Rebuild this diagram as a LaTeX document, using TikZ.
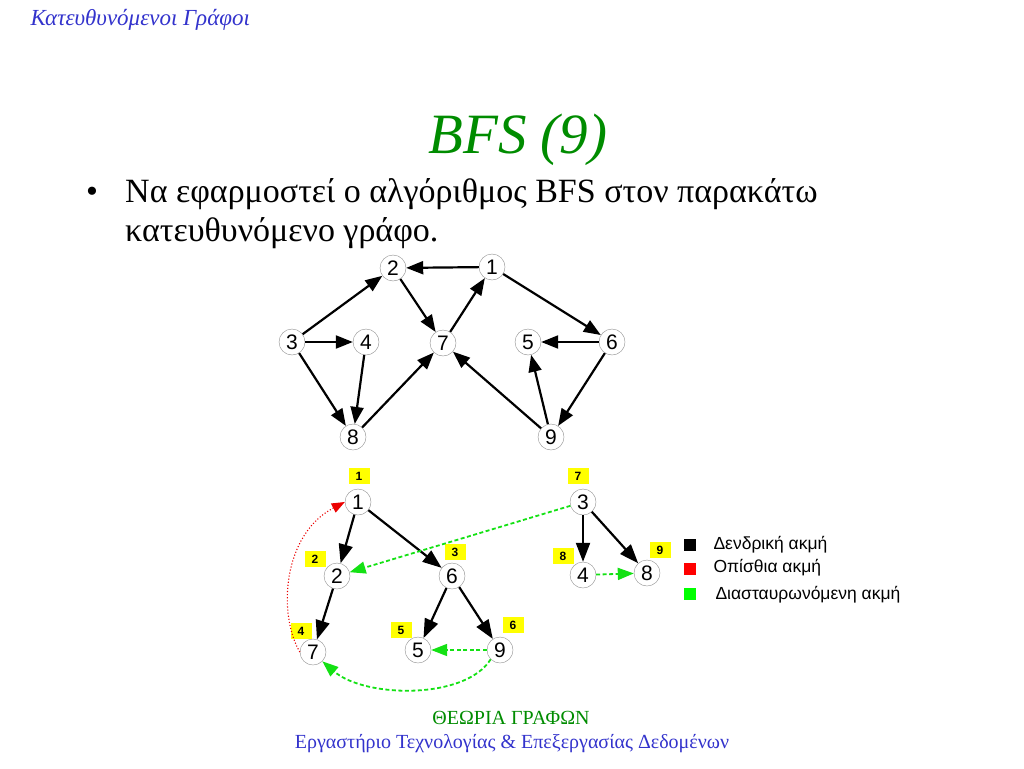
\documentclass[tikz,border=0pt]{standalone}
\usepackage{fontspec}
\setmainfont{Liberation Serif}
\newfontfamily\nodefont{Liberation Sans}
\usetikzlibrary{arrows.meta}
\definecolor{titlegreen}{RGB}{0,140,0}
\definecolor{headblue}{RGB}{51,51,204}
\definecolor{crossgreen}{RGB}{20,225,20}
\definecolor{backred}{RGB}{235,0,0}
\definecolor{numyellow}{RGB}{255,255,0}

\begin{document}
\begin{tikzpicture}[x=1pt,y=-1pt,
  vertex/.style={circle,draw=black!45,thin,fill=white,minimum size=26pt,inner sep=0pt,font=\nodefont\fontsize{21}{21}\selectfont},
  order/.style={fill=numyellow,minimum width=21pt,minimum height=16pt,inner sep=0pt,font=\nodefont\bfseries\fontsize{12}{12}\selectfont},
  edge/.style={-{Triangle[length=17pt,width=13pt]},line width=2.2pt},
  tree/.style={-{Triangle[length=19pt,width=14pt]},line width=2.2pt},
  back/.style={-{Triangle[length=13pt,width=10pt]},backred,line width=1.1pt,dotted},
  cross/.style={-{Triangle[length=16pt,width=12pt]},crossgreen,line width=1.8pt,dash pattern=on 4pt off 2.5pt},
  key/.style={minimum size=12pt,inner sep=0pt},
  keytext/.style={anchor=west,font=\nodefont\fontsize{17.5}{17.5}\selectfont}]
  \useasboundingbox (0,0) rectangle (1024,768);

  \node[anchor=west,text=headblue,font=\itshape\fontsize{23}{23}\selectfont] (head) at (27,20) {Κατευθυνόμενοι Γράφοι};
  \node[anchor=base,text=titlegreen,font=\itshape\fontsize{57}{57}\selectfont] (title) at (518,153) {BFS (9)};
  \node[anchor=base west,inner sep=0pt,font=\fontsize{34}{34}\selectfont] (bullet) at (86,202) {•};
  \node[anchor=base west,inner sep=0pt,font=\fontsize{34}{34}\selectfont] (line1) at (125,202) {Να εφαρμοστεί ο αλγόριθμος BFS στον παρακάτω};
  \node[anchor=base west,inner sep=0pt,font=\fontsize{34}{34}\selectfont] (line2) at (125,241) {κατευθυνόμενο γράφο.};

  \node[vertex] (g1) at (492,267) {1};
  \node[vertex] (g2) at (393,268) {2};
  \node[vertex] (g3) at (292,342) {3};
  \node[vertex] (g4) at (366,342) {4};
  \node[vertex] (g7) at (443,343) {7};
  \node[vertex] (g5) at (528,342) {5};
  \node[vertex] (g6) at (612,342) {6};
  \node[vertex] (g8) at (353,437) {8};
  \node[vertex] (g9) at (551,437) {9};

  \draw[edge] (g1) -- (g2);
  \draw[edge] (g3) -- (g2);
  \draw[edge] (g2) -- (g7);
  \draw[edge] (g7) -- (g1);
  \draw[edge] (g1) -- (g6);
  \draw[edge] (g3) -- (g4);
  \draw[edge] (g3) -- (g8);
  \draw[edge] (g4) -- (g8);
  \draw[edge] (g8) -- (g7);
  \draw[edge] (g9) -- (g7);
  \draw[edge] (g6) -- (g5);
  \draw[edge] (g9) -- (g5);
  \draw[edge] (g6) -- (g9);

  \node[vertex] (t1) at (358,502) {1};
  \node[vertex] (t2) at (337,576) {2};
  \node[vertex] (t6) at (452,576) {6};
  \node[vertex] (t7) at (313,652) {7};
  \node[vertex] (t5) at (418,650) {5};
  \node[vertex] (t9) at (500,650) {9};
  \node[vertex] (t3) at (583,502) {3};
  \node[vertex] (t4) at (583,575) {4};
  \node[vertex] (t8) at (647,573) {8};

  \node[order] (o1) at (359,476) {1};
  \node[order] (o2) at (315,559) {2};
  \node[order] (o3) at (455,552) {3};
  \node[order] (o4) at (301,631) {4};
  \node[order] (o5) at (401,630) {5};
  \node[order] (o6) at (513,625) {6};
  \node[order] (o7) at (578,476) {7};
  \node[order] (o8) at (563,556) {8};
  \node[order] (o9) at (660,550) {9};

  \draw[tree] (t1) -- (t2);
  \draw[tree] (t1) -- (t6);
  \draw[tree] (t2) -- (t7);
  \draw[tree] (t6) -- (t5);
  \draw[tree] (t6) -- (t9);
  \draw[tree] (t3) -- (t4);
  \draw[tree] (t3) -- (t8);
  \draw[back] (t7.west) .. controls (278,615) and (282,535) .. (t1.west);
  \draw[cross] (t3) -- (t2);
  \draw[cross] (t4) -- (t8);
  \draw[cross] (t9) -- (t5);
  \draw[cross] (t9.south west) .. controls (465,700) and (365,698) .. (t7.south east);

  \node[key,fill=black] (k1) at (690,545) {};
  \node[key,fill=red] (k2) at (690,569) {};
  \node[key,fill=green] (k3) at (690,594) {};
  \node[keytext] (k1t) at (710,545) {Δενδρική ακμή};
  \node[keytext] (k2t) at (710,568) {Οπίσθια ακμή};
  \node[keytext] (k3t) at (712,595) {Διασταυρωνόμενη ακμή};

  \node[anchor=base,text=titlegreen,font=\fontsize{20}{20}\selectfont] (foot1) at (511,724) {ΘΕΩΡΙΑ ΓΡΑΦΩΝ};
  \node[anchor=base,text=headblue,font=\fontsize{20}{20}\selectfont] (foot2) at (512,748) {Εργαστήριο Τεχνολογίας \& Επεξεργασίας Δεδομένων};
\end{tikzpicture}
\end{document}
